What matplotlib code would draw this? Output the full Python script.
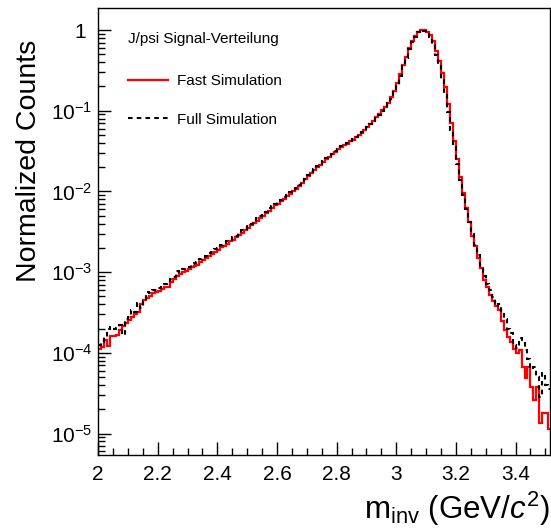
import matplotlib
matplotlib.use('Agg')
import matplotlib.pyplot as plt
import matplotlib.ticker as mticker
import numpy as np

plt.rcParams['font.family'] = ['Liberation Sans', 'DejaVu Sans']
plt.rcParams['mathtext.fontset'] = 'custom'
plt.rcParams['mathtext.rm'] = 'Liberation Sans'
plt.rcParams['mathtext.it'] = 'Liberation Sans:italic'

# binning of the histograms (GeV/c^2)
x_lo = 2.0
bin_w = 0.01

# log10(normalized counts) per bin
fast_log10 = [
    -3.95, -3.93, -3.84, -3.92, -3.79, -3.79, -3.78, -3.72, -3.67, -3.63,
    -3.59, -3.56, -3.52, -3.49, -3.40, -3.34, -3.32, -3.30, -3.26, -3.25,
    -3.23, -3.21, -3.19, -3.18, -3.12, -3.09, -3.05, -3.02, -3.00, -2.98,
    -2.96, -2.94, -2.92, -2.91, -2.88, -2.85, -2.83, -2.80, -2.78, -2.75,
    -2.72, -2.69, -2.67, -2.65, -2.62, -2.60, -2.57, -2.54, -2.51, -2.48,
    -2.45, -2.42, -2.39, -2.36, -2.33, -2.30, -2.27, -2.24, -2.20, -2.17,
    -2.15, -2.12, -2.09, -2.06, -2.03, -2.00, -1.97, -1.93, -1.89, -1.85,
    -1.81, -1.77, -1.73, -1.70, -1.67, -1.63, -1.60, -1.57, -1.54, -1.51,
    -1.48, -1.45, -1.43, -1.41, -1.38, -1.36, -1.33, -1.30, -1.27, -1.24,
    -1.20, -1.17, -1.13, -1.08, -1.04, -0.99, -0.95, -0.90, -0.83, -0.75,
    -0.66, -0.55, -0.43, -0.33, -0.22, -0.14, -0.07, -0.025, 0.0, 0.0,
    -0.02, -0.06, -0.14, -0.26, -0.38, -0.53, -0.70, -0.92, -1.15, -1.38,
    -1.60, -1.82, -2.02, -2.20, -2.38, -2.55, -2.68, -2.82, -2.95, -3.10,
    -3.18, -3.28, -3.36, -3.42, -3.47, -3.60, -3.72, -3.80, -3.86, -3.95,
    -4.00, -3.96, -4.17, -4.31, -4.17, -4.42, -4.59, -4.42, -4.87, -4.75,
    -4.75, -4.94,
]

full_log10 = [
    -3.90, -3.86, -3.80, -3.70, -3.68, -3.70, -3.69, -3.66, -3.78, -3.58,
    -3.55, -3.47, -3.50, -3.38, -3.44, -3.36, -3.24, -3.26, -3.22, -3.22,
    -3.20, -3.18, -3.15, -3.14, -3.08, -3.06, -2.99, -3.00, -2.96, -2.95,
    -2.93, -2.90, -2.89, -2.88, -2.84, -2.83, -2.80, -2.76, -2.75, -2.71,
    -2.70, -2.66, -2.65, -2.61, -2.60, -2.57, -2.55, -2.52, -2.48, -2.46,
    -2.42, -2.40, -2.37, -2.33, -2.31, -2.27, -2.25, -2.21, -2.18, -2.15,
    -2.13, -2.10, -2.07, -2.04, -2.01, -1.99, -1.96, -1.92, -1.88, -1.84,
    -1.80, -1.76, -1.72, -1.69, -1.66, -1.62, -1.59, -1.56, -1.53, -1.50,
    -1.47, -1.44, -1.42, -1.40, -1.37, -1.35, -1.32, -1.29, -1.26, -1.23,
    -1.20, -1.17, -1.13, -1.09, -1.05, -1.00, -0.96, -0.91, -0.85, -0.77,
    -0.68, -0.57, -0.45, -0.34, -0.23, -0.15, -0.08, -0.03, 0.0, -0.01,
    -0.04, -0.09, -0.18, -0.31, -0.45, -0.62, -0.80, -1.02, -1.24, -1.45,
    -1.66, -1.86, -2.05, -2.22, -2.38, -2.53, -2.66, -2.79, -2.92, -3.05,
    -3.15, -3.22, -3.31, -3.42, -3.40, -3.52, -3.58, -3.70, -3.75, -3.90,
    -3.94, -3.82, -3.87, -3.97, -4.08, -4.20, -4.18, -4.30, -4.55, -4.25,
    -4.40, -4.45,
]

fast = 10.0 ** np.array(fast_log10)
full = 10.0 ** np.array(full_log10)
edges = x_lo + bin_w * np.arange(len(fast) + 1)

fig = plt.figure(figsize=(5.51, 5.28), dpi=100)
ax = fig.add_axes([0.178, 0.138, 0.8194, 0.8466])

ax.stairs(fast, edges, baseline=None, color='red', lw=1.6, label='Fast Simulation')
ax.stairs(full, edges, baseline=None, color='black', lw=1.5,
          linestyle=(0, (2.2, 2.0)), label='Full Simulation')

ax.set_yscale('log')
ax.set_xlim(2.0, 3.514)
ax.set_ylim(5.4e-6, 1.87)

ax.xaxis.set_major_locator(mticker.MultipleLocator(0.2))
ax.xaxis.set_minor_locator(mticker.MultipleLocator(0.05))
ax.xaxis.set_major_formatter(mticker.FuncFormatter(lambda v, p: '%g' % round(v, 2)))

ax.yaxis.set_major_locator(mticker.LogLocator(base=10, numticks=20))
ax.yaxis.set_minor_locator(mticker.LogLocator(base=10, subs=np.arange(2, 10), numticks=20))
def ylab(v, p):
    e = int(round(np.log10(v)))
    return '1 ' if e == 0 else r'$10^{%d}$' % e
ax.yaxis.set_major_formatter(mticker.FuncFormatter(ylab))
ax.yaxis.set_minor_formatter(mticker.NullFormatter())

ax.tick_params(which='both', direction='in', top=False, right=False, labelsize=15)
ax.tick_params(which='major', length=9.5, width=1)
ax.tick_params(which='minor', length=5, width=1)
ax.tick_params(axis='x', pad=7)
ax.tick_params(axis='y', pad=4)
for s in ax.spines.values():
    s.set_linewidth(1.0)

ax.set_xlabel(r'm$_{\mathrm{inv}}$ (GeV/$c^{2}$)', fontsize=22.5, loc='right')
ax.xaxis.set_label_coords(1.0, -0.077)
ax.set_ylabel('Normalized Counts', fontsize=20.5)
ax.yaxis.set_label_coords(-0.125, 0.658)
ax.yaxis.label.set_horizontalalignment('center')

leg = ax.legend(loc='upper left', bbox_to_anchor=(0.066, 0.946), frameon=False,
                title='J/psi Signal-Verteilung', title_fontsize=11, fontsize=11,
                alignment='left', borderpad=0, borderaxespad=0,
                handlelength=2.6, handletextpad=0.6, labelspacing=1.62)
leg._legend_box.sep = 20

fig.savefig('out.png', dpi=100)
